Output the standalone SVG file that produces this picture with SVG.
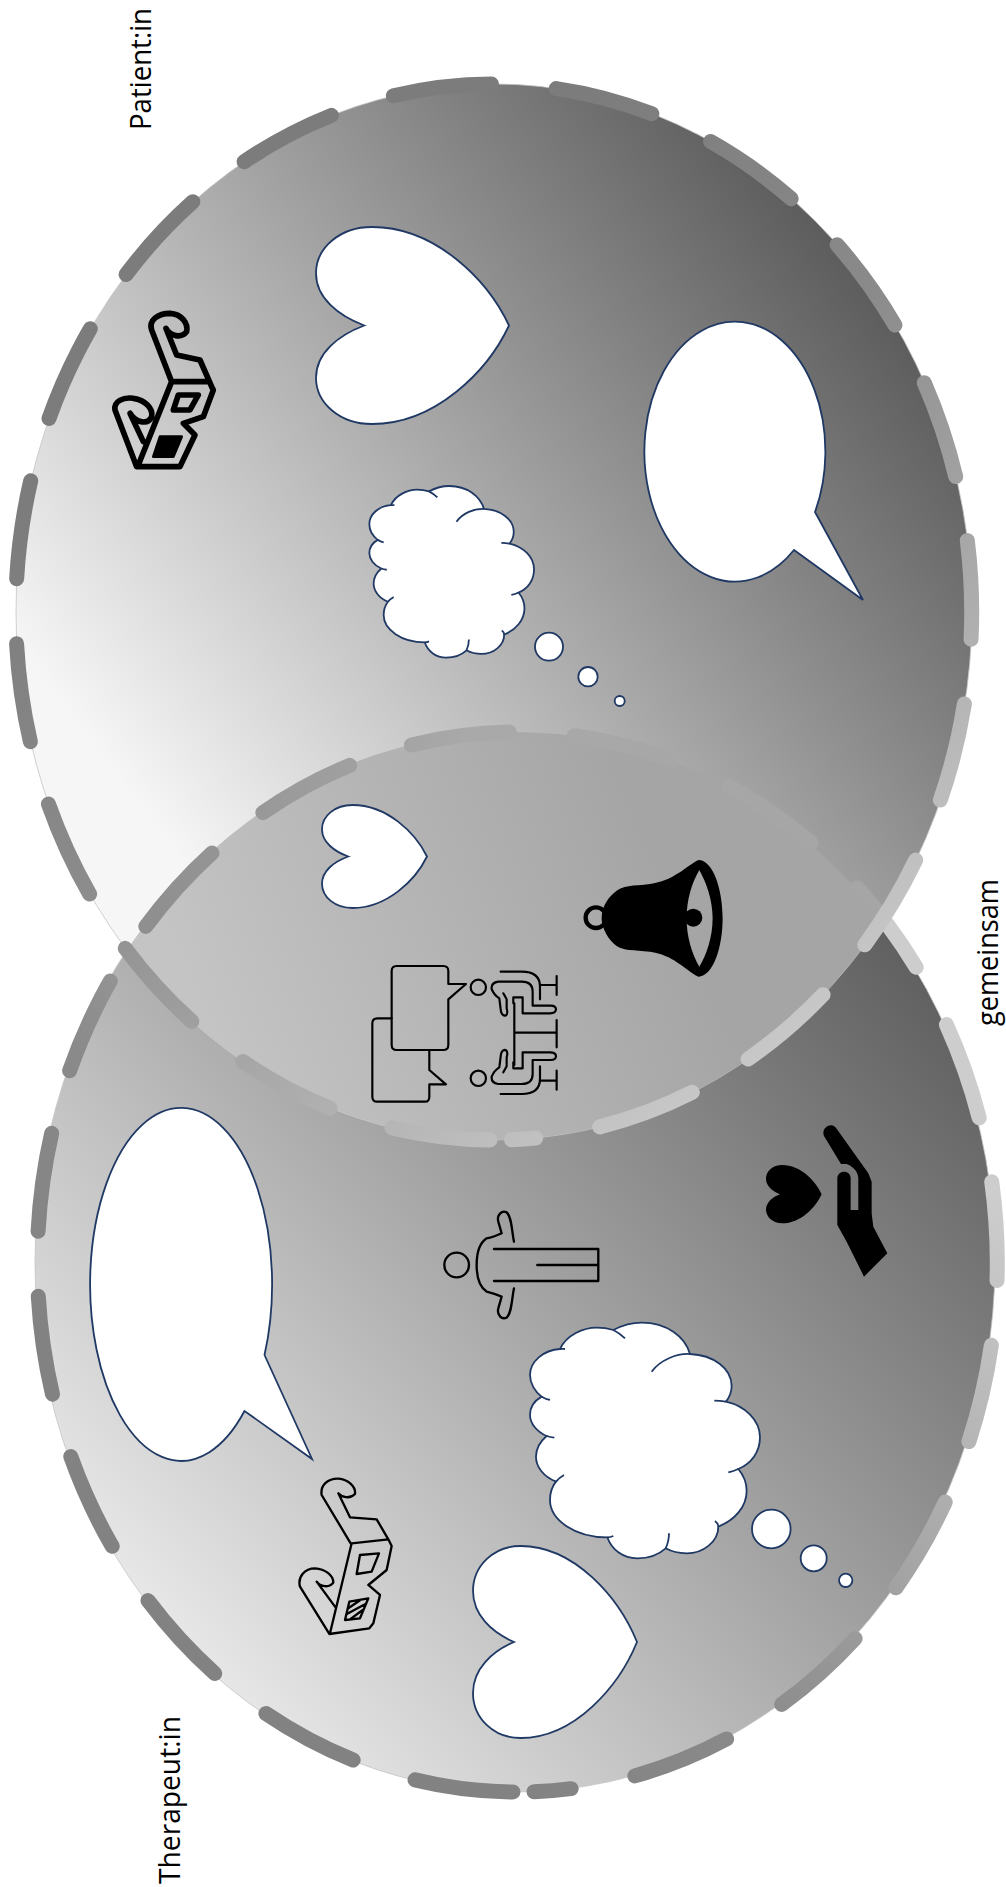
<svg xmlns="http://www.w3.org/2000/svg" xmlns:xlink="http://www.w3.org/1999/xlink" width="1006" height="1887" viewBox="0 0 1006 1887">
<style>
.lbl{font-family:"Open Sans","Liberation Sans",sans-serif;font-size:29px;fill:#000}
.blob{fill:#fff;stroke:#1f3864;stroke-width:1.8}
.blob,.ln,#heart{vector-effect:non-scaling-stroke}
.ln{fill:none;stroke:#1f3864;stroke-width:1.8}
.ic{fill:none;stroke:#000;stroke-linecap:round;stroke-linejoin:round}
.dash{fill:none;stroke-width:15;stroke-linecap:round;stroke-dasharray:99 65}
.rim{stroke:#c4c4c4;stroke-width:.8}
</style>
<defs>
<linearGradient id="gTop" gradientUnits="userSpaceOnUse" x1="110" y1="830" x2="880" y2="230"><stop offset=".04" stop-color="#f6f6f6"/><stop offset="1" stop-color="#555"/></linearGradient>
<linearGradient id="gBot" gradientUnits="userSpaceOnUse" x1="170" y1="1640" x2="960" y2="945"><stop offset="0" stop-color="#e8e8e8"/><stop offset="1" stop-color="#5a5a5a"/></linearGradient>
<linearGradient id="gLens" gradientUnits="userSpaceOnUse" x1="200" y1="1010" x2="640" y2="820"><stop offset="0" stop-color="#c4c4c4"/><stop offset="1" stop-color="#a5a5a5"/></linearGradient>
<linearGradient id="sTop" gradientUnits="userSpaceOnUse" x1="300" y1="300" x2="850" y2="1050"><stop offset="0" stop-color="#7c7c7c"/><stop offset=".35" stop-color="#8a8a8a"/><stop offset="1" stop-color="#cdcdcd"/></linearGradient>
<linearGradient id="sBot" gradientUnits="userSpaceOnUse" x1="400" y1="1700" x2="950" y2="1150"><stop offset="0" stop-color="#828282"/><stop offset=".3" stop-color="#8a8a8a"/><stop offset="1" stop-color="#cdcdcd"/></linearGradient>
<linearGradient id="sThru" gradientUnits="userSpaceOnUse" x1="150" y1="900" x2="900" y2="760"><stop offset="0" stop-color="#8f8f8f"/><stop offset=".45" stop-color="#a9a9a9"/><stop offset="1" stop-color="#a5a5a5"/></linearGradient>
<path id="pTop" d="M490 1140A478 528 0 1 1 511.5 1139.65"/>
<path id="pBot" d="M513 1792A480 530 0 1 1 534 1791.7"/>
<clipPath id="cTop"><ellipse cx="494" cy="612" rx="478" ry="528"/></clipPath>
<path id="heart" d="M100 50C89 27 62 0 29 0C12.5 0 0 10.5 0 23.5C0 36 11.5 45 25 50C11.5 55 0 64 0 76.5C0 89.5 12.5 100 29 100C62 100 89 73 100 50Z"/>
<g id="cloud">
<path class="blob" d="M180 147C200 105 250 83 290 83C310 83 330 87 340 90C375 72 400 68 425 68C500 68 555 110 570 162C640 165 695 205 695 258C695 275 688 292 678 305C735 318 780 360 780 412C780 455 755 490 715 507C730 525 740 548 740 572C740 620 705 660 655 680C655 725 610 760 560 760C538 760 515 755 497 745C475 765 445 775 412 775C370 775 335 750 322 712C225 712 150 660 150 600C150 580 156 560 168 545C130 530 108 500 108 470C108 445 120 425 140 408C110 395 90 370 90 345C90 322 102 303 125 290C105 275 90 250 90 225C90 185 130 150 180 147Z"/>
<path class="ln" d="M340 90Q360 100 375 115M570 162C530 160 480 180 455 215M678 305Q660 302 643 302M715 507Q700 514 685 517M655 680Q655 670 645 663M497 745Q507 725 507 700M322 712Q332 712 340 708M168 545Q178 533 192 525M140 408Q150 412 163 413M125 290Q137 297 150 300M180 147Q188 146 195 147"/>
</g>
<g id="seated">
<circle cx="415" cy="442" r="23"/>
<path d="M482 395H545Q600 395 600 440V478M600 435H650M650 408V465"/>
<path d="M548 472H520V490M548 472V520H630Q648 520 648 508Q648 497 632 497H578V455Q578 425 545 425H475Q453 428 455 447Q462 465 478 475L483 515Q487 528 497 527Q505 522 500 505V478L490 460"/>
</g>
</defs>
<rect width="1006" height="1887" fill="#fff"/>
<g id="ellipse-therapeut">
<ellipse cx="515" cy="1262" rx="480" ry="530" fill="url(#gBot)" class="rim"/>
<use xlink:href="#pBot" class="dash" stroke="url(#sBot)"/>
</g>
<g id="ellipse-patient">
<ellipse cx="494" cy="612" rx="478" ry="528" fill="url(#gTop)" class="rim"/>
</g>
<g id="overlap" clip-path="url(#cTop)">
<ellipse cx="515" cy="1262" rx="480" ry="530" fill="url(#gLens)"/>
<use xlink:href="#pBot" class="dash" stroke="url(#sThru)"/>
</g>
<g id="ellipse-patient-rim">
<use xlink:href="#pTop" class="dash" stroke="url(#sTop)"/>
</g>
<g id="patient-heart"><use xlink:href="#heart" class="blob" transform="translate(316 227) scale(1.93 1.97)"/></g>
<g id="patient-speech"><path class="blob" d="M815 512L863 600L794 550A90.5 130 0 1 1 815 512Z"/></g>
<g id="patient-cloud">
<use xlink:href="#cloud" transform="translate(347.85 469.5) scale(.2387 .2427)"/>
<circle class="blob" cx="549" cy="646.7" r="14"/><circle class="blob" cx="588" cy="676.7" r="9.7"/><circle class="blob" cx="619.7" cy="701" r="5"/>
</g>
<g id="patient-glasses" transform="translate(80 280) scale(.3333)">
<path class="ic" stroke-width="17" d="M275 305L215 150C205 120 235 100 270 100C305 102 325 130 320 155C305 175 270 170 258 145L290 225L360 240L395 320L400 330L370 410L310 430L345 465L300 560H170L105 390C100 365 130 350 160 355C195 360 220 385 215 410C205 435 170 430 150 400L190 485M275 305H385M275 305L175 555M295 345H355L330 390H280Z"/>
<path fill="#000" stroke="#000" stroke-width="8" stroke-linejoin="round" d="M240 470H305L280 530H220Z"/>
</g>
<g id="shared-heart"><use xlink:href="#heart" class="blob" transform="translate(322 805) scale(1.05 1.03)"/></g>
<g id="shared-bell" transform="translate(340 840) scale(.3333)">
<path fill="#000" fill-rule="evenodd" d="M1075 60C1120 60 1148 150 1148 235C1148 320 1120 410 1075 410C1030 385 1000 345 930 335C880 330 850 332 830 318C805 300 785 265 785 235C785 200 805 170 830 152C860 132 900 138 930 132C1000 122 1030 85 1075 60ZM1078 90C1055 130 1040 180 1040 235C1040 290 1055 340 1078 380C1100 345 1118 290 1118 235C1118 180 1100 130 1078 90Z"/>
<circle cx="1060" cy="233" r="27" fill="#000"/>
<circle cx="768" cy="233" r="31" fill="none" stroke="#000" stroke-width="13"/>
</g>
<g id="shared-talk" class="ic" stroke-width="6.5" transform="translate(340 840) scale(.3333)">
<path d="M170 378H310Q325 378 325 393V432H378L325 478V615Q325 630 310 630H170Q155 630 155 615V393Q155 378 170 378Z"/>
<path d="M155 535H112Q97 535 97 550V770Q97 785 112 785H255Q268 785 268 770V733H318L268 690V632"/>
<use xlink:href="#seated"/>
<use xlink:href="#seated" transform="translate(0 1157) scale(1 -1)"/>
<path d="M523 490V675M523 578H650M650 540V622"/>
</g>
<g id="shared-person" class="ic" stroke-width="7" transform="translate(280 1130) scale(.3333)">
<circle cx="530" cy="405" r="37"/>
<path d="M642 357H955V453H642M772 405H955"/>
<path d="M702 335C695 300 695 260 680 247C665 240 650 255 655 275L665 310Q640 322 620 325Q590 345 590 405Q590 465 620 485Q640 490 665 500L655 535C650 555 665 570 680 563C695 550 695 510 702 475"/>
</g>
<g id="shared-hand" transform="translate(740 1110) scale(.3333)">
<path fill="#000" d="M252 78C245 60 260 45 275 46C283 47 287 52 291 58L385 190L395 215V310L400 350L442 430L372 500L320 395L292 345V205C292 193 302 185 312 185C324 185 332 193 332 205V300H355V205C355 190 345 172 320 162H303Z"/>
<use xlink:href="#heart" fill="#000" transform="translate(78 165) scale(1.67 1.75)"/>
</g>
<g id="therapeut-speech"><path class="blob" d="M264.5 1355L312 1459L244.5 1411A91 176.5 0 1 1 264.5 1355Z"/></g>
<g id="therapeut-cloud">
<use xlink:href="#cloud" transform="translate(500 1300) scale(.3333)"/>
<circle class="blob" cx="771.3" cy="1529" r="19.3"/><circle class="blob" cx="813.7" cy="1558.3" r="13"/><circle class="blob" cx="845.7" cy="1580.3" r="6.7"/>
</g>
<g id="therapeut-heart"><use xlink:href="#heart" class="blob" transform="translate(473 1546) scale(1.64 1.92)"/></g>
<g id="therapeut-glasses" class="ic" stroke-width="7" transform="translate(280 1460) scale(.3333)">
<path d="M212 250L125 105C120 75 145 55 175 56C205 58 228 80 225 102C210 118 185 112 175 100L210 172L290 178L325 238L335 258L320 330L265 375L300 405L280 490L268 505L148 522L60 380C52 350 75 325 105 325C135 327 160 345 160 368C148 385 120 380 110 365L165 440M215 250L325 238M215 250L150 520M240 285L297 280L275 335L230 342Z"/>
<path d="M208 425L265 415L240 475L195 480ZM205 445L240 421M199 463L255 433M210 478L248 450"/>
</g>
<g id="labels">
<text class="lbl" transform="translate(151 130) rotate(-90)" textLength="122" lengthAdjust="spacingAndGlyphs">Patient:in</text>
<text class="lbl" transform="translate(180 1884) rotate(-90)" textLength="168" lengthAdjust="spacingAndGlyphs">Therapeut:in</text>
<text class="lbl" transform="translate(998 1026) rotate(-90)" textLength="147" lengthAdjust="spacingAndGlyphs">gemeinsam</text>
</g>
</svg>
